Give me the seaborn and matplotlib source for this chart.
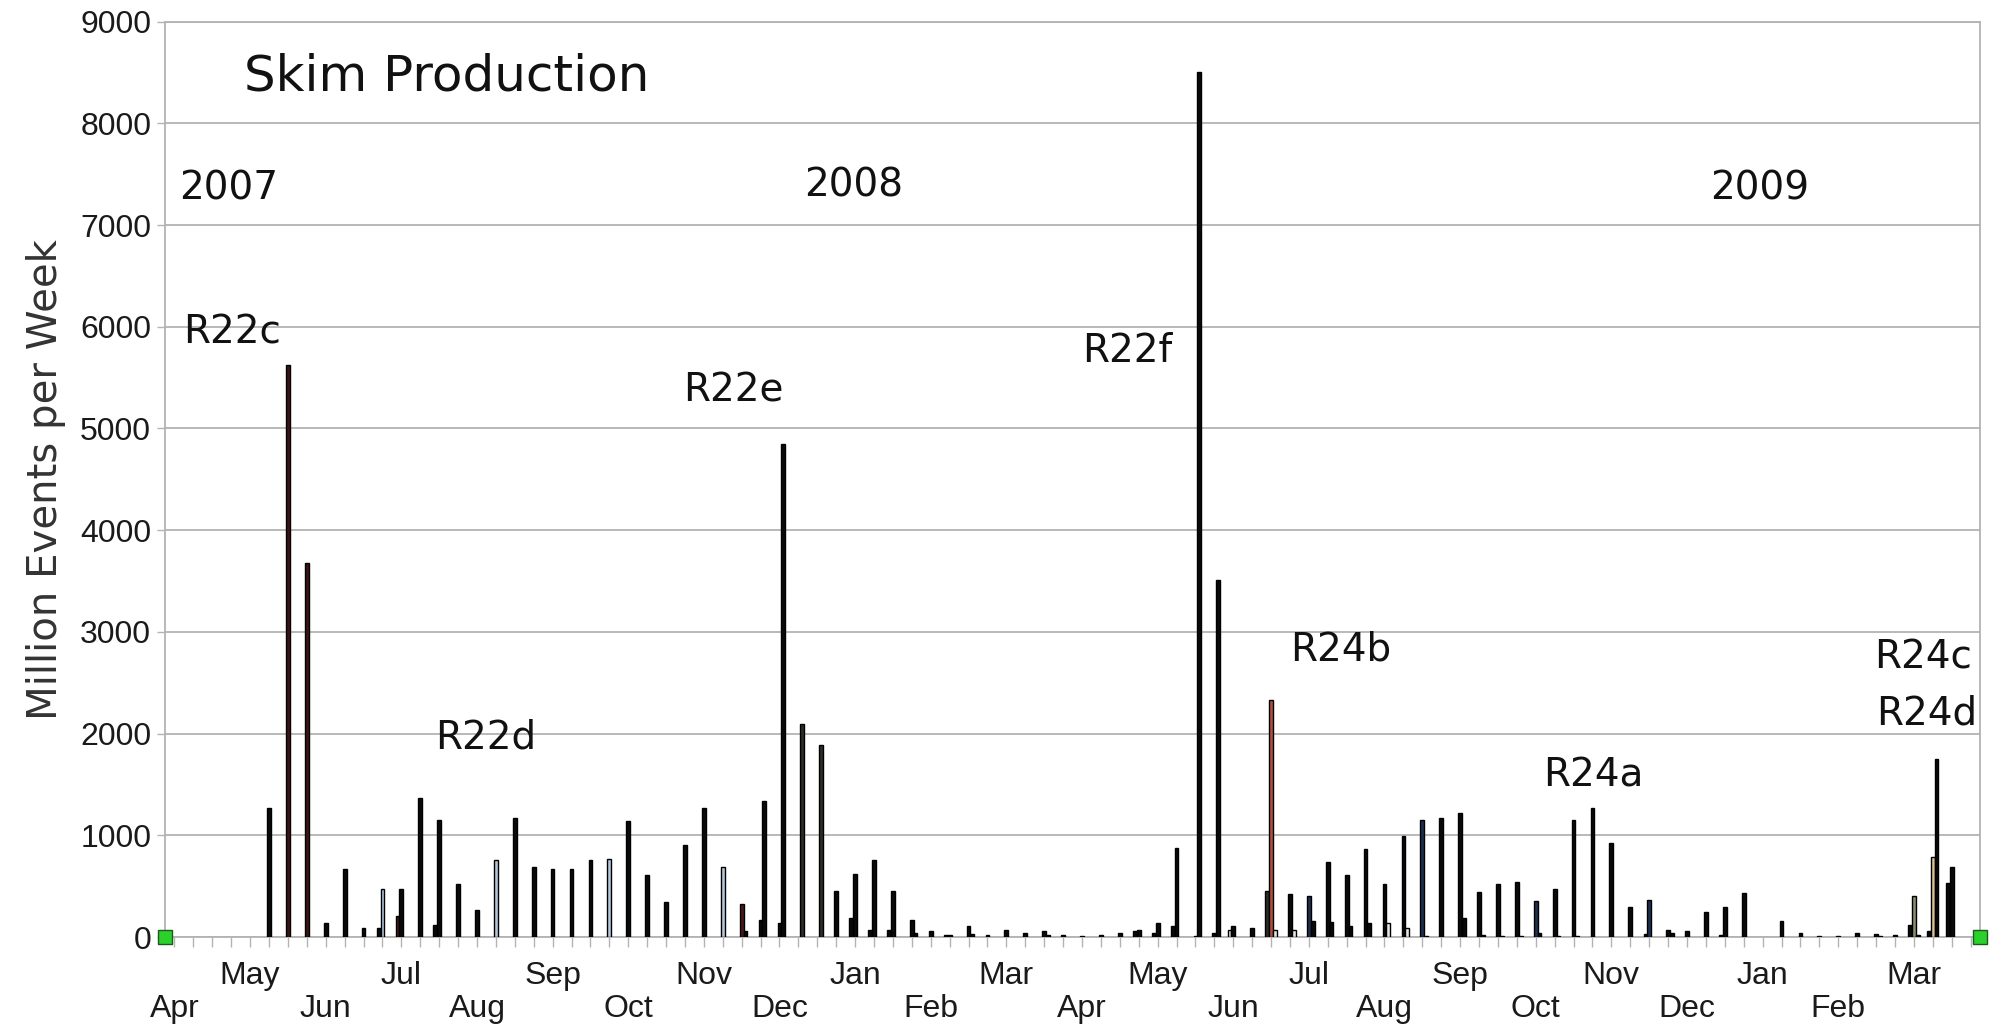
import matplotlib
matplotlib.use("Agg")
import matplotlib.pyplot as plt
import pandas as pd
import seaborn as sns

# weekly skim production, million events (96 weeks, Apr 2007 - Mar 2009)
# each week has up to three adjacent bars: left / main / right
main_vals = [
    0, 0, 0, 0, 0, 1270, 5620, 3680, 140, 670, 90, 470,
    470, 1370, 1155, 520, 270, 755, 1170, 690, 670, 670, 755, 770,
    1140, 605, 340, 905, 1270, 690, 320, 170, 140, 0, 0, 455,
    620, 755, 455, 170, 55, 20, 105, 20, 70, 40, 55, 20,
    6, 20, 40, 70, 140, 875, 6, 40, 105, 90, 2335, 425,
    400, 735, 605, 870, 520, 990, 1155, 1170, 1220, 440, 520, 540,
    350, 470, 1150, 1265, 920, 300, 365, 70, 55, 250, 300, 435,
    0, 155, 40, 6, 6, 40, 33, 20, 400, 785, 690, 0,
]
left_vals = [
    0, 0, 0, 0, 0, 0, 0, 0, 0, 0, 0, 90,
    205, 0, 120, 0, 0, 0, 0, 0, 0, 0, 0, 0,
    0, 0, 0, 0, 0, 0, 0, 0, 0, 0, 0, 0,
    185, 70, 70, 0, 0, 20, 0, 0, 0, 0, 0, 0,
    0, 0, 0, 55, 40, 105, 0, 0, 66, 0, 455, 0,
    0, 0, 0, 0, 0, 0, 0, 0, 0, 0, 0, 0,
    0, 0, 0, 0, 0, 0, 33, 0, 0, 0, 23, 0,
    0, 0, 0, 0, 0, 0, 0, 0, 120, 56, 535, 0,
]
right_vals = [
    0, 0, 0, 0, 0, 0, 0, 0, 0, 0, 0, 0,
    0, 0, 0, 0, 0, 0, 0, 0, 0, 0, 0, 0,
    0, 0, 0, 0, 0, 0, 55, 1335, 4850, 2090, 1890, 0,
    0, 0, 0, 40, 0, 0, 33, 0, 0, 0, 20, 0,
    0, 0, 0, 0, 0, 0, 8500, 3510, 0, 0, 66, 66,
    155, 150, 105, 140, 140, 90, 6, 0, 185, 20, 6, 6,
    40, 6, 6, 0, 0, 0, 0, 40, 0, 0, 0, 0,
    0, 0, 0, 0, 0, 0, 6, 0, 20, 1750, 0, 0,
]

# one colour code per week and slot
main_kind = ("kkkkkkRRkkkB" "kkkkkBkkkkkB" "kkkkkBrkkkkk" "kkkkkkkkkkkk"
             "kkkkkkkkkkOk" "NkkkkkNkkkkk" "NkkkkkNkkkkk" "kkkkkkkkGTkk")
left_kind = ("kkkkkkkkkkkk" "rkkkkkkkkkkk" "kkkkkkkkkkkk" "kkkkkkkkkkkk"
             "kkkkkkkkHkDk" "kkkkkkkkkkkk" "kkkkkkkkkkkk" "kkkkkkkkkkkk")
right_kind = ("kkkkkkkkkkkk" "kkkkkkkkkkkk" "kkkkkkkkkDDk" "kkkkkkkkkkkk"
              "kkkkkkkkkkHH" "kkkkHHkkkkkk" "kkkkkkkkkkkk" "kkkkkkkkkkkk")

kind_colors = {
    "k": "#0a0a0a", "R": "#3d1414", "r": "#4a1a1a", "B": "#b4c7dc",
    "D": "#2e2e26", "O": "#b0503c", "N": "#1e3050", "G": "#8c8c70",
    "T": "#d8c090", "H": "#e6e6e6",
}

month_labels = ["Apr", "May", "Jun", "Jul", "Aug", "Sep", "Oct", "Nov",
                "Dec", "Jan", "Feb", "Mar"] * 2

# release annotations: (text, week position, value)
annotations = [
    ("R22c", 0.45, 5940), ("R22d", 13.8, 1960), ("R22e", 26.9, 5375),
    ("R22f", 48.0, 5760), ("R24b", 59.0, 2825), ("R24a", 72.4, 1590),
    ("R24c", 89.9, 2750), ("R24d", 90.0, 2200),
]
years = [("2007", 0.24, 7360), ("2008", 33.3, 7390), ("2009", 81.2, 7360)]
end_marker_vals = [0, 0]

n_weeks = len(main_vals)
weeks = list(range(n_weeks))

rows = []
for slot, vals, kinds in [("left", left_vals, left_kind),
                          ("main", main_vals, main_kind),
                          ("right", right_vals, right_kind)]:
    for w in weeks:
        rows.append({"week": w, "slot": slot, "value": vals[w], "kind": kinds[w]})
df = pd.DataFrame(rows)
kind_lookup = {(r.week, r.slot): r.kind for r in df.itertuples()}

sns.set_style("white")
plt.rcParams["font.family"] = ["DejaVu Sans"]

fig, ax = plt.subplots(figsize=(19.93, 10.27), dpi=100)
fig.subplots_adjust(left=0.0828, right=0.9935, bottom=0.0876, top=0.979)

sns.barplot(
    data=df,
    x="week",
    y="value",
    hue="slot",
    hue_order=["left", "main", "right"],
    order=weeks,
    palette={"left": "black", "main": "black", "right": "black"},
    dodge=True,
    width=0.6,
    errorbar=None,
    legend=False,
    edgecolor="black",
    linewidth=1.0,
    ax=ax,
)

# colour each bar by its week / slot
for bar in ax.patches:
    centre = bar.get_x() + bar.get_width() / 2
    w = int(round(centre))
    off = centre - w
    slot = "left" if off < -0.1 else ("right" if off > 0.1 else "main")
    if bar.get_height() <= 0:
        bar.set_visible(False)
        continue
    bar.set_facecolor(kind_colors[kind_lookup[(w, slot)]])
    bar.set_zorder(3)

# green end markers on the x axis
ax.scatter([-0.5, n_weeks - 0.5], end_marker_vals, marker="s", s=90,
           color="#2bd12b", edgecolor="#1d5a1d", linewidth=1,
           clip_on=False, zorder=6)

ax.set_xlim(-0.5, n_weeks - 0.5)
ax.set_ylim(0, 9000)
ax.set_yticks(range(0, 9001, 1000))
ax.yaxis.grid(True, color="#b3b3b3", linewidth=1.3)
ax.set_axisbelow(True)

tick_font = ["Liberation Sans", "DejaVu Sans"]
ax.set_xticks(weeks)
xlabels = []
for w in weeks:
    if w % 4 == 0:
        name = month_labels[w // 4]
        xlabels.append(("\n" + name) if (w // 4) % 2 == 0 else name)
    else:
        xlabels.append("")
ax.set_xticklabels(xlabels, fontsize=23, family=tick_font, color="#1a1a1a",
                   linespacing=1.15)
for lab in ax.get_yticklabels():
    lab.set_fontsize(23)
    lab.set_family(tick_font)
    lab.set_color("#1a1a1a")

ax.tick_params(axis="x", direction="out", length=7, width=1,
               color="#b3b3b3", pad=10, bottom=True)
ax.tick_params(axis="y", direction="out", length=6, width=1,
               color="#b3b3b3", pad=4, left=True)

for side in ["left", "right", "top", "bottom"]:
    ax.spines[side].set_visible(True)
    ax.spines[side].set_color("#b3b3b3")
    ax.spines[side].set_linewidth(1.3)

ax.set_xlabel("")
ax.set_ylabel("Million Events per Week", fontsize=29, color="#333333",
              labelpad=10)

ax.text(3.68, 8460, "Skim Production", fontsize=36, ha="left", va="center",
        color="#111111")
for txt, x, y in years:
    ax.text(x, y, txt, fontsize=28, ha="left", va="center", color="#111111")
for txt, x, y in annotations:
    ax.text(x, y, txt, fontsize=28, ha="left", va="center", color="#111111")

plt.savefig("out.png", dpi=100)
plt.close()
